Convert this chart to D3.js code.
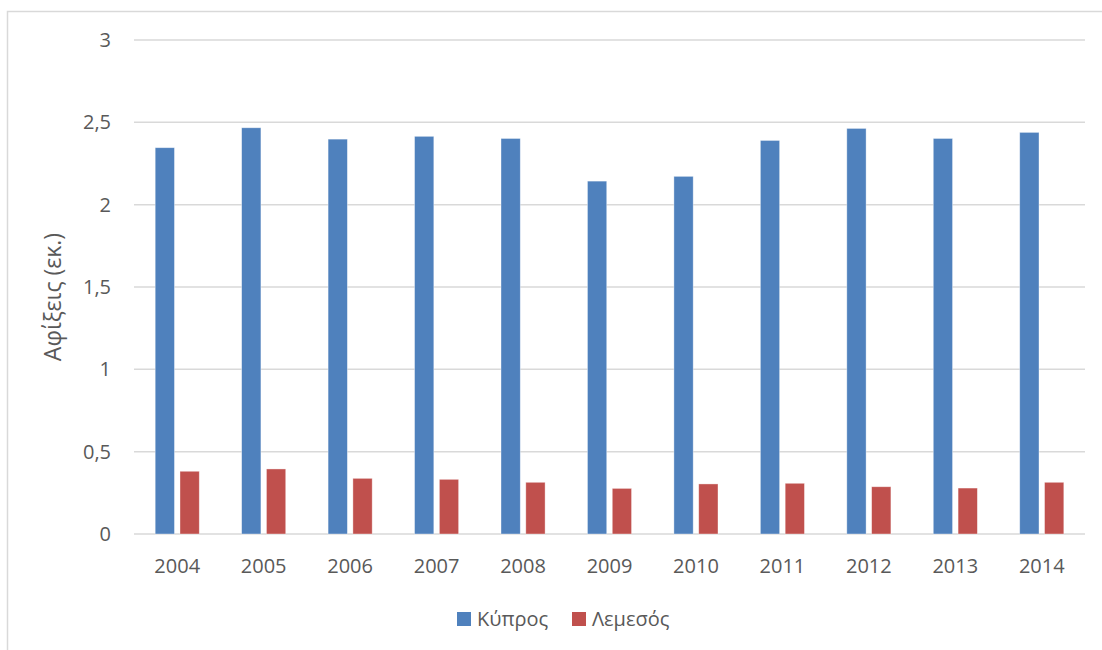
<!DOCTYPE html>
<html>
<head>
<meta charset="utf-8">
<script src="https://cdn.jsdelivr.net/npm/d3@7"></script>
<style>
  body { margin: 0; background: #fff; }
  text { font-family: "Open Sans", "Noto Sans", sans-serif; fill: #595959; }
</style>
</head>
<body>
<svg id="chart" width="1102" height="650"></svg>
<script>
const years = ["2004","2005","2006","2007","2008","2009","2010","2011","2012","2013","2014"];
const cyprus = [2.346, 2.467, 2.398, 2.415, 2.402, 2.143, 2.172, 2.390, 2.463, 2.402, 2.439];
const limassol = [0.381, 0.395, 0.338, 0.332, 0.314, 0.277, 0.304, 0.308, 0.287, 0.279, 0.314];
const seriesNames = ["Κύπρος", "Λεμεσός"];
const seriesColors = ["#4F81BD", "#C0504D"];
const yTicks = [0, 0.5, 1, 1.5, 2, 2.5, 3];
const yLabel = "Αφίξεις (εκ.)";

const svg = d3.select("#chart");

// outer frame
svg.append("rect").attr("x", 7.5).attr("y", 11.5).attr("width", 1200).attr("height", 1000)
  .attr("fill", "none").attr("stroke", "#d9d9d9").attr("stroke-width", 1.5);

const plot = { left: 134, right: 1085, top: 40, bottom: 534 };

const x = d3.scaleBand().domain(years).range([plot.left, plot.right]).paddingInner(0).paddingOuter(0);
const y = d3.scaleLinear().domain([0, 3]).range([plot.bottom, plot.top]);
const step = x.bandwidth();
const barW = step * 0.223;
const gap = step * 0.064;
const x1 = d3.scaleOrdinal().domain([0, 1]).range([-(barW + gap / 2), gap / 2]);

// gridlines
svg.append("g").selectAll("line").data(yTicks).join("line")
  .attr("x1", plot.left).attr("x2", plot.right)
  .attr("y1", d => y(d)).attr("y2", d => y(d))
  .attr("stroke", "#d9d9d9").attr("stroke-width", 1.5);

// y tick labels
const yFmt = d => String(d).replace(".", ",");
svg.append("g").selectAll("text").data(yTicks).join("text")
  .attr("x", 111).attr("y", d => y(d)).attr("dy", "0.35em")
  .attr("text-anchor", "end").attr("font-size", 20)
  .text(yFmt);

// bars
const data = [cyprus, limassol];
data.forEach((vals, si) => {
  svg.append("g").selectAll("rect").data(vals).join("rect")
    .attr("x", (d, i) => x(years[i]) + step / 2 + x1(si))
    .attr("y", d => y(d))
    .attr("width", barW)
    .attr("height", d => y(0) - y(d))
    .attr("fill", seriesColors[si])
    .attr("stroke", "#ffffff").attr("stroke-opacity", 0.5).attr("stroke-width", 0.75);
});

// x tick labels
svg.append("g").selectAll("text").data(years).join("text")
  .attr("x", d => x(d) + step / 2).attr("y", 573)
  .attr("text-anchor", "middle").attr("font-size", 20)
  .text(d => d);

// y axis title
svg.append("text")
  .attr("transform", "translate(61,297) rotate(-90)")
  .attr("text-anchor", "middle").attr("font-size", 23)
  .text(yLabel);

// legend
const legend = [{ name: seriesNames[0], color: seriesColors[0], x: 457 }, { name: seriesNames[1], color: seriesColors[1], x: 572 }];
const lg = svg.append("g");
legend.forEach(l => {
  lg.append("rect").attr("x", l.x).attr("y", 612).attr("width", 14).attr("height", 14).attr("fill", l.color);
  lg.append("text").attr("x", l.x + 20).attr("y", 626).attr("font-size", 20).text(l.name);
});
</script>
</body>
</html>
